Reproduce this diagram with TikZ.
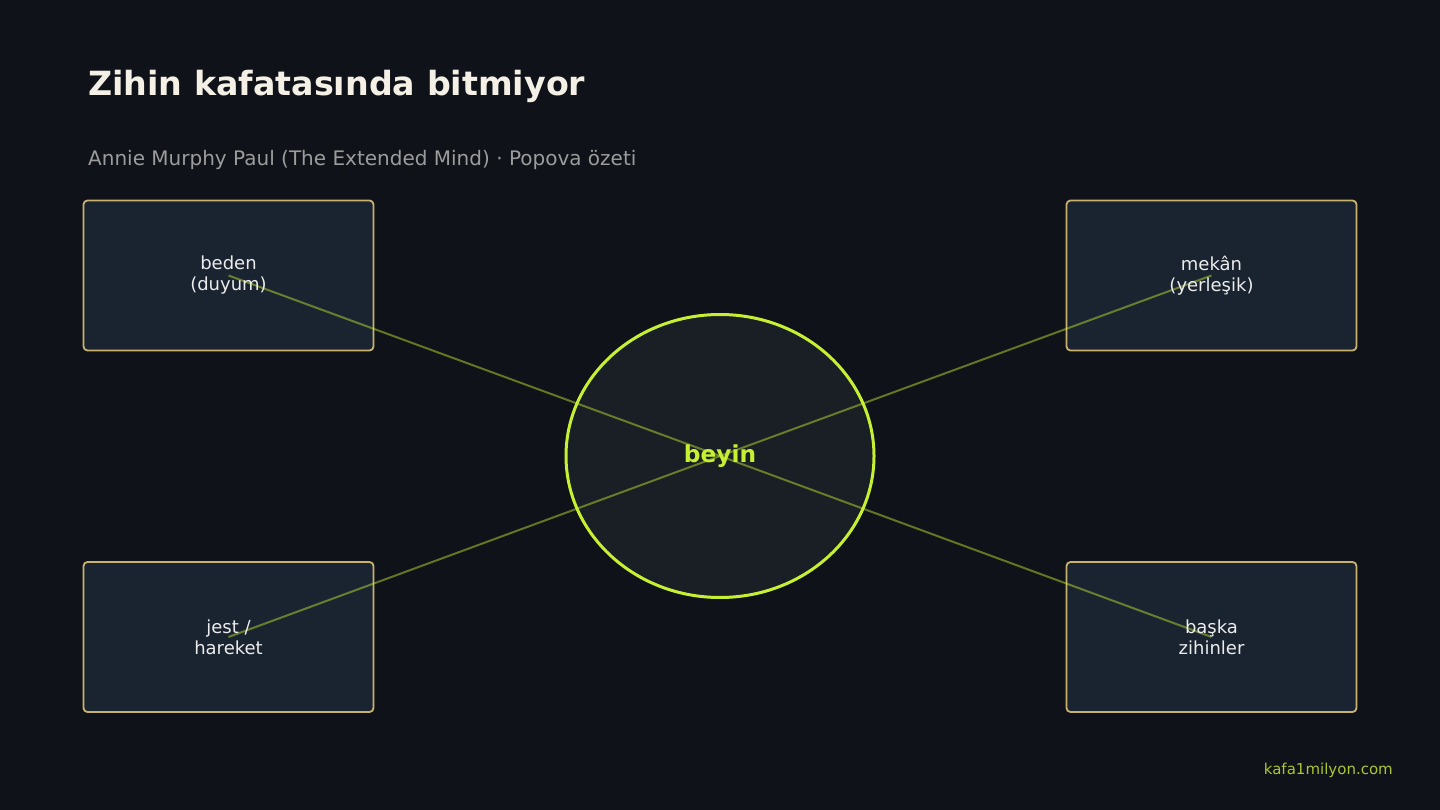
\documentclass[tikz,border=0pt]{standalone}
\usepackage{fontspec}
\setmainfont{DejaVu Sans}
\usepackage{xcolor}
\usetikzlibrary{calc,shapes.geometric}

\definecolor{bgdark}{HTML}{0F1218}
\definecolor{boxfill}{HTML}{1A2330}
\definecolor{boxline}{HTML}{C9B26E}
\definecolor{lime}{HTML}{C8F032}
\definecolor{brainfill}{HTML}{1A1E25}
\definecolor{titlecol}{HTML}{F4F0E6}
\definecolor{subcol}{HTML}{9C9C9C}
\definecolor{labelcol}{HTML}{ECECEC}
\definecolor{footcol}{HTML}{A8C630}

\begin{document}
\begin{tikzpicture}[x=1pt,y=-1pt]
        \tikzstyle{box}=[draw=boxline,fill=boxfill,line width=1.8pt,rounded corners=4pt,minimum width=290pt,minimum height=150pt,inner sep=0pt]
        \tikzstyle{boxtext}=[text=labelcol,align=center,font=\fontsize{18}{21}\selectfont,inner sep=0pt]
        \tikzstyle{link}=[draw=lime,draw opacity=0.45,line width=2pt]
        \fill[bgdark] (0,0) rectangle (1440,810);
        \useasboundingbox (0,0) rectangle (1440,810);

        \node[anchor=base west,text=titlecol,font=\bfseries\fontsize{33.3}{40}\selectfont,inner sep=0pt] (title) at (88,96) {Zihin kafatasında bitmiyor};
        \node[anchor=base west,text=subcol,font=\fontsize{20}{24}\selectfont,inner sep=0pt] (subtitle) at (88,166) {Annie Murphy Paul (The Extended Mind) · Popova özeti};

        \node[box] (beden) at (228.5,275.5) {};
        \node[box] (mekan) at ($(beden)+(983,0)$) {};
        \node[box] (jest) at ($(beden)+(0,361.5)$) {};
        \node[box] (baska) at ($(mekan)+(0,361.5)$) {};

        \node[ellipse,draw=lime,fill=brainfill,line width=3pt,minimum width=308pt,minimum height=283pt,inner sep=0pt] (beyin) at (720,456) {};

        \draw[link] (beden.center) to (beyin.center);
        \draw[link] (mekan.center) to (beyin.center);
        \draw[link] (jest.center) to (beyin.center);
        \draw[link] (baska.center) to (beyin.center);

        \node[boxtext] (bedenText) at (beden) {beden\\(duyum)};
        \node[boxtext] (mekanText) at (mekan) {mekân\\(yerleşik)};
        \node[boxtext] (jestText) at (jest) {jest /\\hareket};
        \node[boxtext] (baskaText) at (baska) {başka\\zihinler};
        \node[text=lime,font=\bfseries\fontsize{23.3}{28}\selectfont,inner sep=0pt] (beyinText) at (beyin) {beyin};

        \node[anchor=base east,text=footcol,font=\fontsize{15}{18}\selectfont,inner sep=0pt] (footer) at (1393,774) {kafa1milyon.com};
    \end{tikzpicture}
\end{document}
